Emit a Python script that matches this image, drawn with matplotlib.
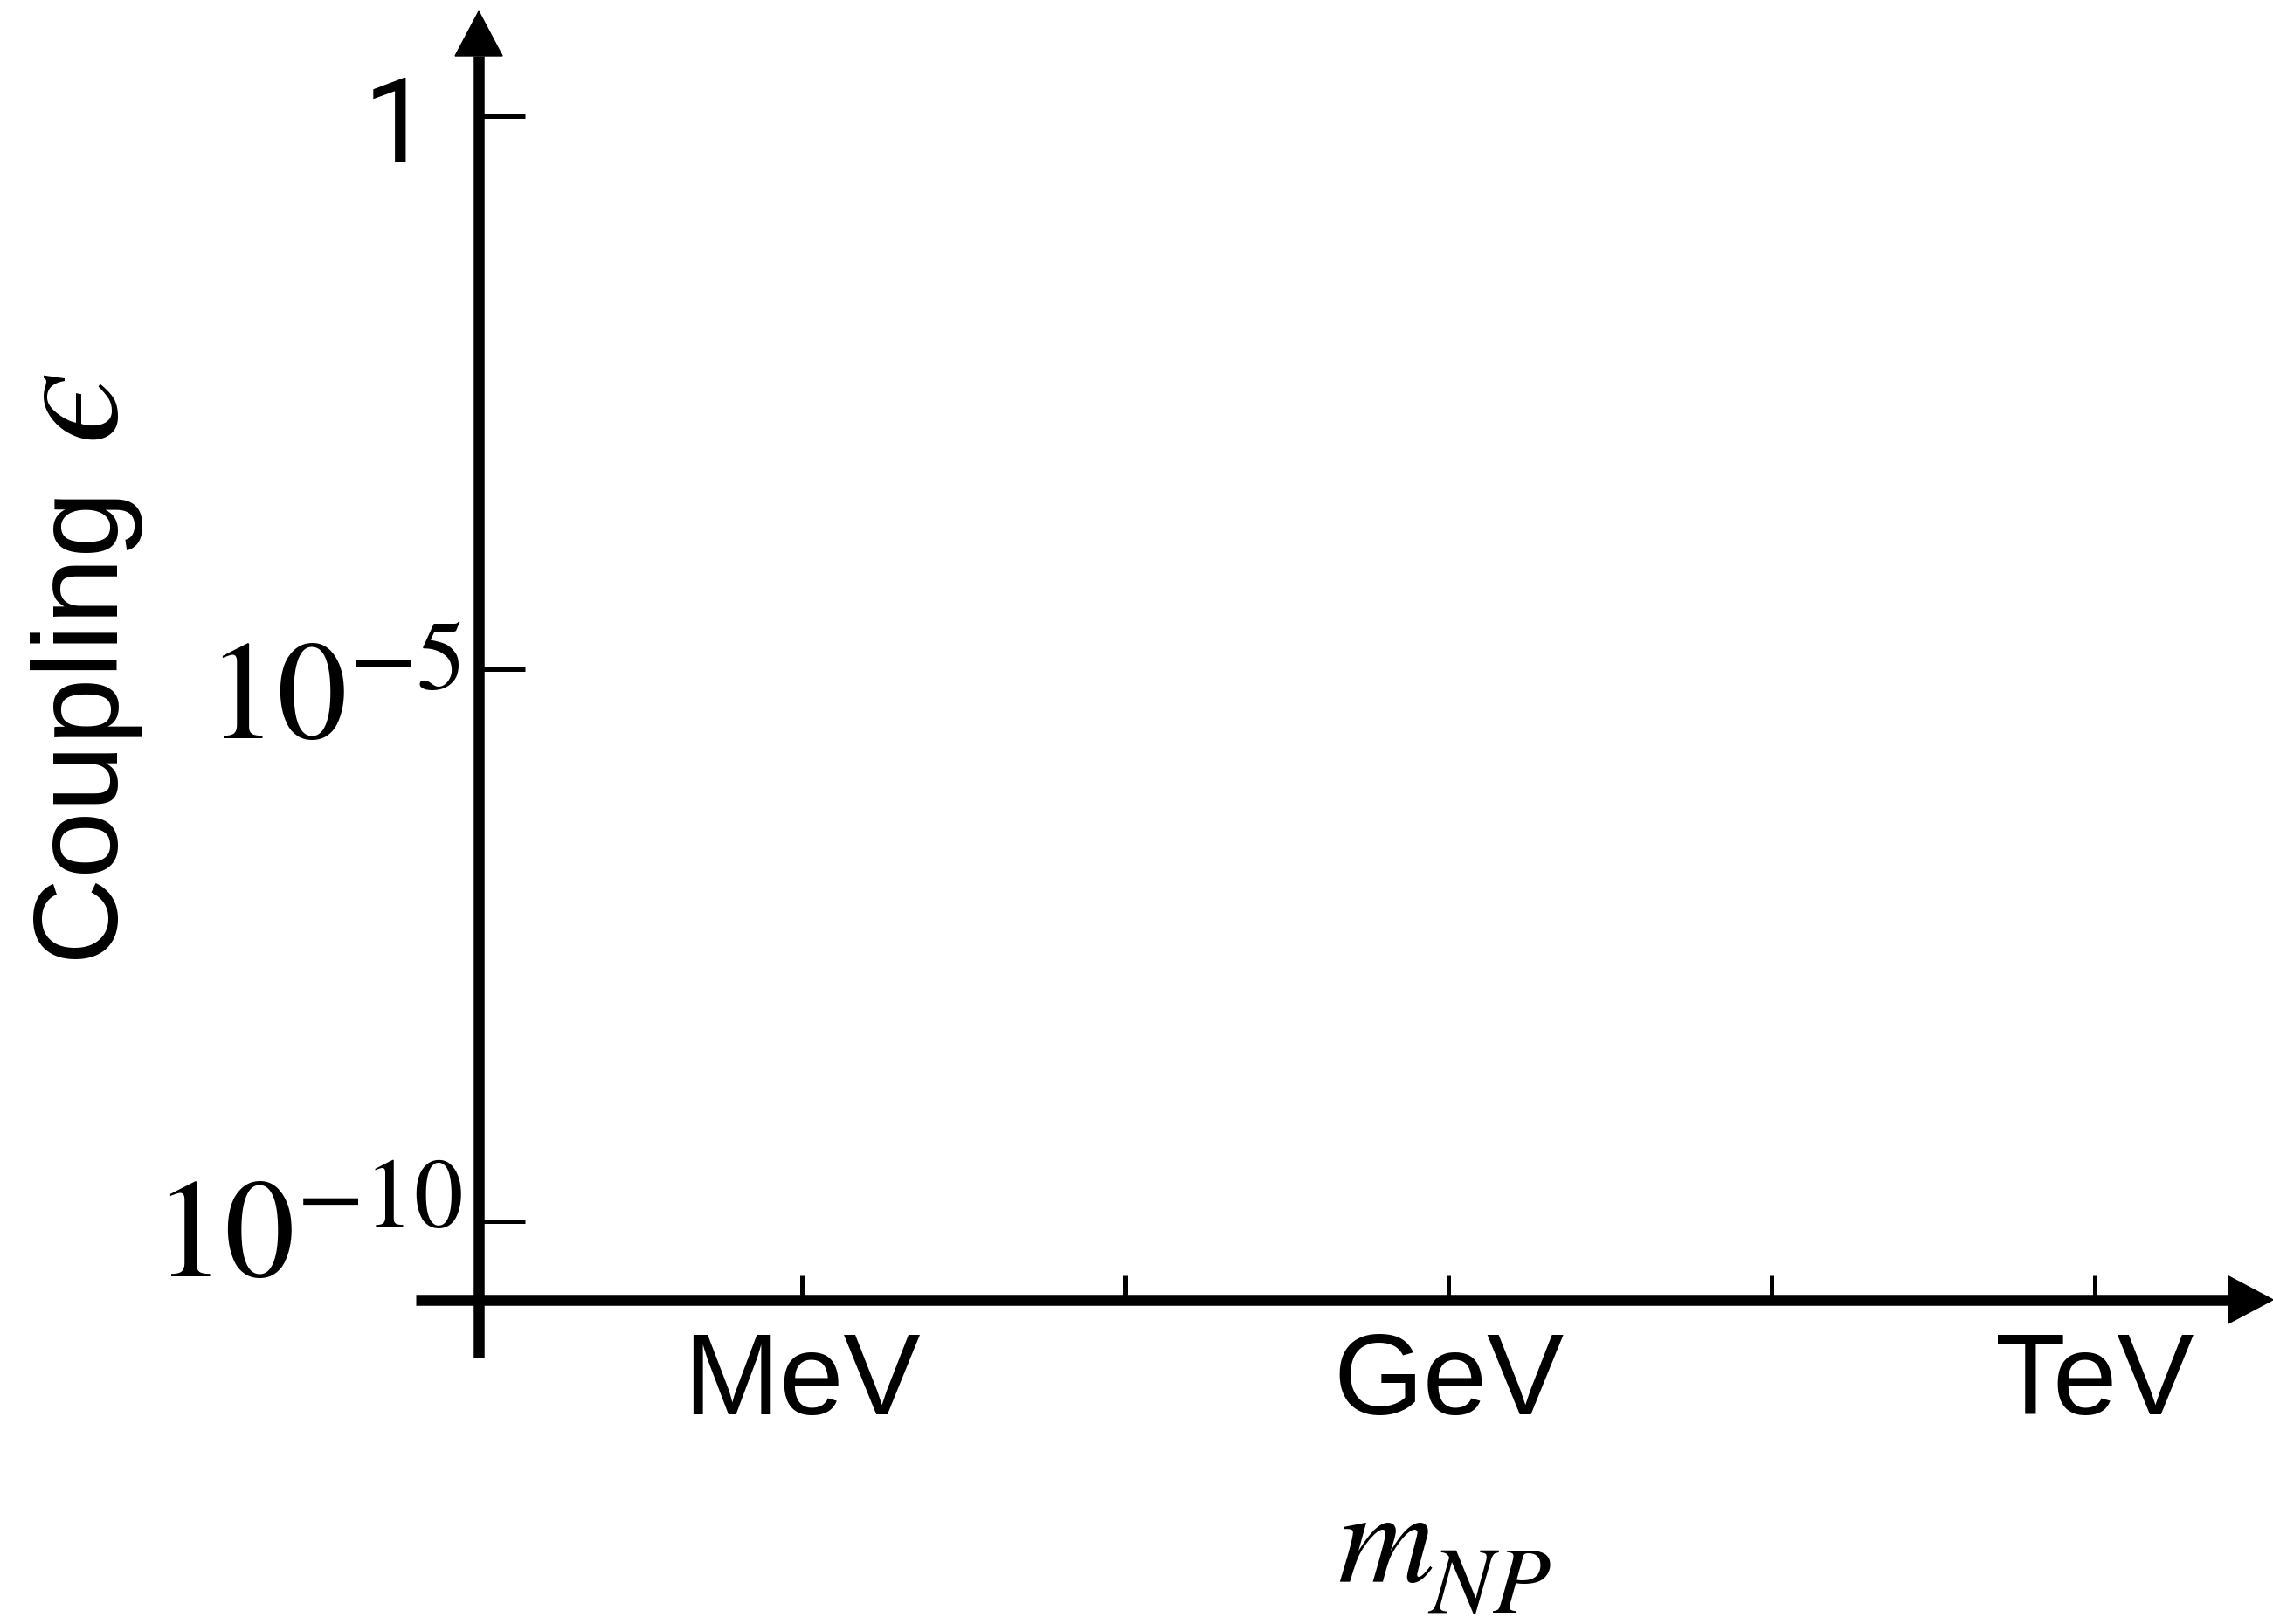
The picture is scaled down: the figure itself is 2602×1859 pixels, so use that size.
import matplotlib.pyplot as plt
from matplotlib.patches import Polygon
from matplotlib.ticker import FixedLocator, NullLocator
from matplotlib.transforms import IdentityTransform, ScaledTranslation

plt.rcParams['mathtext.fontset'] = 'stix'
plt.rcParams['font.family'] = ['Liberation Sans', 'DejaVu Sans']

# axis extent in decades
mass_range = (4.208, 12.827)      # log10(m / eV)
coupling_range = (-11.233, 0.949)  # log10(eps)
mass_cross = 4.5        # mass where the coupling axis stands
coupling_cross = -10.71  # coupling where the mass axis lies

mass_ticks = [6, 7.5, 9, 10.5, 12]
mass_labels = ['MeV', '', 'GeV', '', 'TeV']
coupling_ticks = [0, -5, -10]
coupling_labels = ['1', r'$10^{-5}$', r'$10^{-10}$']

W, H, DPI = 2602, 1859, 100
fig = plt.figure(figsize=(W / DPI, H / DPI), dpi=DPI)
ax = fig.add_axes([476 / W, (H - 1554) / H, (W - 476) / W, (1554 - 13) / H])
ax.set_xscale('log')
ax.set_yscale('log')
ax.set_xlim(10 ** mass_range[0], 10 ** mass_range[1])
ax.set_ylim(10 ** coupling_range[0], 10 ** coupling_range[1])
ax.patch.set_visible(False)

for side in ('top', 'right'):
    ax.spines[side].set_visible(False)
ax.spines['left'].set_position(('data', 10 ** mass_cross))
ax.spines['bottom'].set_position(('data', 10 ** coupling_cross))
for side in ('left', 'bottom'):
    ax.spines[side].set_linewidth(9)
    ax.spines[side].set_capstyle('butt')

ax.xaxis.set_major_locator(FixedLocator([10 ** t for t in mass_ticks]))
ax.xaxis.set_minor_locator(NullLocator())
ax.set_xticklabels(mass_labels, fontsize=95)
ax.yaxis.set_major_locator(FixedLocator([10 ** t for t in coupling_ticks]))
ax.yaxis.set_minor_locator(NullLocator())
ax.set_yticklabels(coupling_labels, fontsize=116)
ax.tick_params(axis='x', direction='in', length=20, width=3.6, pad=25)
ax.tick_params(axis='y', direction='in', length=38, width=3.6, pad=14)

# small per-label nudges (inches) so each label sits where the original has it
nudges = [(-0.36, -0.02), (0.0, -0.22), (0.0, -0.05)]
for tick, (dx, dy) in zip(ax.yaxis.get_major_ticks(), nudges):
    lbl = tick.label1
    lbl.set_transform(lbl.get_transform() + ScaledTranslation(dx, dy, fig.dpi_scale_trans))

# the plain "1" is a footless sans one
one = ax.yaxis.get_major_ticks()[0].label1
one.set_fontfamily('Roboto')
one.set_fontsize(98)

# arrow heads at the ends of both axes
head_len, head_w = 51, 54
tx, ty = ax.transData.transform((10 ** mass_cross, 10 ** coupling_range[1]))
base = ax.transData.inverted().transform((tx, ty - head_len))[1]
ax.spines['left'].set_bounds(10 ** coupling_range[0], base)
ax.add_patch(Polygon([(tx, ty), (tx - head_w / 2, ty - head_len), (tx + head_w / 2, ty - head_len)],
                     closed=True, color='black', transform=IdentityTransform(), clip_on=False, zorder=4))

tx, ty = ax.transData.transform((10 ** mass_range[1], 10 ** coupling_cross))
base = ax.transData.inverted().transform((tx - head_len, ty))[0]
ax.spines['bottom'].set_bounds(10 ** mass_range[0], base)
ax.add_patch(Polygon([(tx, ty), (tx - head_len, ty - head_w / 2), (tx - head_len, ty + head_w / 2)],
                     closed=True, color='black', transform=IdentityTransform(), clip_on=False, zorder=4))

# axis titles
fig.text(128 / W, 1 - 826 / H, 'Coupling', rotation=90, rotation_mode='anchor', fontsize=99,
         ha='center', va='baseline')
fig.text(134 / W, 1 - 468 / H, '$\u03f5$', rotation=90, rotation_mode='anchor', fontsize=136,
         ha='center', va='baseline')
fig.text(1531 / W, 1 - 1811 / H, '$m$', fontsize=110, ha='left', va='baseline')
fig.text(1634 / W, 1 - 1846 / H, '$NP$', fontsize=78, ha='left', va='baseline')

fig.savefig('out.png', dpi=DPI)
